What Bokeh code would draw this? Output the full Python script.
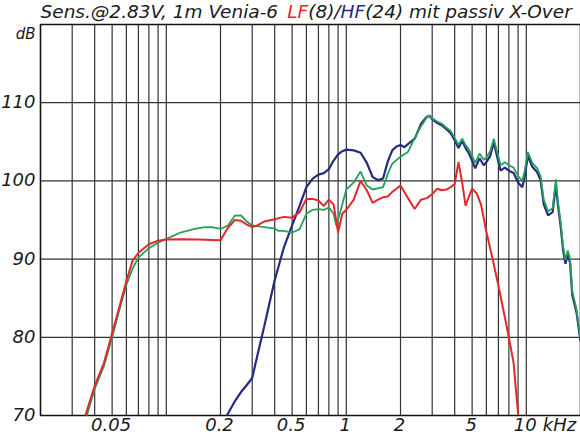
from bokeh.plotting import figure
from bokeh.models import Label
from bokeh.embed import file_html
from bokeh.resources import INLINE

# ---------------- data (frequency in kHz, level in dB) ----------------
freq_lf = [0.0355, 0.04, 0.045, 0.05, 0.055, 0.06, 0.065, 0.07, 0.08, 0.09,
           0.1, 0.12, 0.15, 0.18, 0.2, 0.22, 0.24, 0.26, 0.28, 0.3,
           0.32, 0.35, 0.4, 0.45, 0.5, 0.55, 0.6, 0.65, 0.7, 0.75,
           0.8, 0.85, 0.9, 0.95, 1.0, 1.1, 1.2, 1.3, 1.4, 1.5,
           1.6, 1.7, 1.8, 1.9, 2.0, 2.2, 2.4, 2.6, 2.8, 3.0,
           3.2, 3.4, 3.6, 3.8, 4.0, 4.2, 4.4, 4.6, 4.8, 5.0,
           5.3, 5.6, 6.0, 6.5, 7.0, 7.5, 8.0, 8.5, 9.0]
db_lf = [70.0, 73.8, 76.7, 80.5, 84.0, 87.2, 89.8, 90.8, 91.9, 92.35,
         92.5, 92.55, 92.5, 92.45, 92.4, 94.0, 95.0, 94.9, 94.4, 94.1,
         94.3, 94.8, 95.1, 95.4, 95.3, 96.0, 97.7, 97.7, 97.5, 96.8,
         97.6, 97.0, 93.4, 95.8, 96.3, 97.6, 100.0, 98.8, 97.2, 97.6,
         97.9, 98.0, 98.6, 99.0, 99.4, 97.8, 96.4, 97.6, 97.8, 98.3,
         99.0, 98.8, 98.9, 99.2, 99.6, 102.4, 99.8, 96.8, 98.0, 99.0,
         98.4, 97.0, 93.5, 90.0, 86.6, 83.2, 80.0, 76.7, 70.2]

freq_hf = [0.217, 0.24, 0.26, 0.28, 0.3, 0.32, 0.35, 0.4, 0.45, 0.5,
           0.55, 0.6, 0.65, 0.7, 0.75, 0.8, 0.85, 0.9, 0.95, 1.0,
           1.1, 1.2, 1.3, 1.4, 1.5, 1.6, 1.7, 1.8, 1.9, 2.0,
           2.1, 2.2, 2.4, 2.6, 2.8, 2.9, 3.0, 3.2, 3.4, 3.6,
           3.8, 4.0, 4.2, 4.4, 4.6, 4.8, 5.0, 5.2, 5.5, 5.8,
           6.0, 6.3, 6.6, 6.9, 7.2, 7.6, 8.0, 8.5, 9.0, 9.5,
           9.8, 10.2, 10.8, 11.5, 12.0, 12.5, 13.2, 14.0, 14.6, 15.0,
           15.5, 16.0, 16.5, 17.0, 17.5, 18.0, 19.0, 20.0]
db_hf = [70.0, 71.8, 73.0, 73.9, 74.8, 77.6, 81.4, 87.3, 91.5, 94.3,
         96.8, 99.2, 100.3, 100.8, 101.0, 101.5, 102.6, 103.4, 103.8, 104.0,
         103.9, 103.6, 102.3, 100.5, 100.1, 100.3, 102.5, 103.9, 104.4, 104.6,
         104.3, 104.7, 105.4, 107.3, 108.2, 108.3, 107.9, 107.4, 107.1, 106.6,
         106.1, 105.2, 104.2, 105.1, 104.2, 103.5, 102.6, 101.6, 102.9, 102.0,
         102.4, 103.2, 104.9, 103.0, 101.3, 101.7, 101.3, 101.0, 99.8, 99.2,
         100.6, 103.2, 101.8, 101.1, 100.1, 97.0, 95.6, 96.0, 99.5, 96.8,
         94.3, 91.2, 89.4, 90.6, 89.5, 85.4, 83.2, 79.5]

freq_sum = [0.0362, 0.04, 0.045, 0.05, 0.055, 0.06, 0.065, 0.07, 0.08, 0.09,
            0.1, 0.11, 0.12, 0.14, 0.16, 0.18, 0.2, 0.22, 0.24, 0.26,
            0.28, 0.3, 0.35, 0.4, 0.42, 0.45, 0.5, 0.55, 0.6, 0.65,
            0.7, 0.75, 0.8, 0.85, 0.88, 0.92, 1.0, 1.1, 1.2, 1.3,
            1.4, 1.6, 1.7, 1.8, 2.0, 2.2, 2.4, 2.6, 2.8,
            2.9, 3.0, 3.2, 3.4, 3.6, 3.8, 4.0, 4.2, 4.4, 4.6,
            4.8, 5.0, 5.2, 5.5, 5.8, 6.0, 6.3, 6.6, 6.9, 7.2,
            7.6, 8.0, 8.5, 9.0, 9.5, 9.8, 10.2, 10.8, 11.5, 12.0,
            12.5, 13.2, 14.0, 14.6, 15.0, 15.5, 16.0, 16.5, 17.0, 17.5,
            18.0, 19.0, 20.0]
db_sum = [70.0, 73.4, 76.3, 80.0, 83.6, 86.7, 88.8, 90.2, 91.4, 92.1,
          92.6, 93.0, 93.4, 93.8, 94.05, 94.1, 93.85, 94.3, 95.55, 95.6,
          94.8, 94.3, 94.1, 93.9, 93.6, 93.6, 93.4, 93.8, 95.8, 96.3,
          96.4, 96.3, 96.6, 95.8, 94.3, 95.8, 98.9, 99.8, 101.2, 99.4,
          98.9, 99.2, 100.9, 102.2, 103.1, 103.7, 105.5, 107.0, 108.1,
          108.4, 108.0, 107.6, 107.3, 106.8, 106.4, 105.5, 104.6, 105.4, 104.6,
          104.0, 103.2, 102.3, 103.5, 102.7, 103.0, 103.8, 105.4, 103.6, 102.0,
          102.4, 102.0, 101.7, 100.6, 100.0, 101.3, 103.7, 102.3, 101.6, 100.6,
          97.6, 96.1, 96.5, 100.2, 97.3, 94.8, 91.7, 89.9, 91.1, 90.0,
          85.9, 83.6, 79.9]

x_tick_values = [0.05, 0.2, 0.5, 1, 2, 5, 10]
x_tick_labels = ["0.05", "0.2", "0.5", "1", "2", "5", "10"]
y_tick_values = [70, 80, 90, 100, 110]
y_tick_labels = ["70", "80", "90", "100", "110"]
x_grid_ticks = [m * d for d in (0.01, 0.1, 1.0, 10.0) for m in range(1, 10)
                if 0.02 < m * d < 20]
y_grid_ticks = [80, 90, 100, 110]
x_lo, x_hi = 0.02, 20.0      # plotted band (kHz)
y_lo, y_hi = 70.0, 120.0     # plotted band (dB)

title_parts = ["Sens.@2.83V, 1m Venia-6", "LF", "(8)/", "HF", "(24) mit passiv X-Over"]
title_colors = ["#1a1a1a", "#e0282a", "#1a1a1a", "#2b2a86", "#1a1a1a"]
# advance widths (em) of the parts in DejaVu Sans (first incl. trailing space)
title_widths_em = [13.336, 1.132, 1.753, 1.327, 11.262]

RED = "#e3282a"
BLUE = "#262a80"
GREEN = "#25a058"
TXT = "#1a1a1a"
GRID = "#333333"
FONT = "DejaVu Sans"

# The plot frame fills the whole canvas so that every label stays visible;
# the ranges put 20 Hz..20 kHz and 70..120 dB where the reference box lies.
W, H = 580, 435
BOX_L, BOX_T, BOX_B = 40, 24, 20
x_start = x_lo / 10 ** (BOX_L / ((W - BOX_L) / 3.0))
dbpx = (H - BOX_T - BOX_B) / (y_hi - y_lo)
y_start = y_lo - BOX_B / dbpx
y_end = y_hi + BOX_T / dbpx

p = figure(width=W, height=H, x_axis_type="log",
           x_range=(x_start, x_hi), y_range=(y_start, y_end),
           output_backend="svg", toolbar_location=None, min_border=0)
p.title.visible = False
p.xaxis.visible = False
p.yaxis.visible = False
p.grid.visible = False
p.outline_line_color = None
p.background_fill_color = "white"
p.border_fill_color = "white"

# grid
p.segment(x0=x_grid_ticks, y0=[y_lo] * len(x_grid_ticks),
          x1=x_grid_ticks, y1=[y_hi] * len(x_grid_ticks),
          line_color=GRID, line_width=1.2)
p.segment(x0=[x_lo] * len(y_grid_ticks), y0=y_grid_ticks,
          x1=[x_hi] * len(y_grid_ticks), y1=y_grid_ticks,
          line_color=GRID, line_width=1.2)
# plot box
p.quad(left=[x_lo], right=[x_hi], bottom=[y_lo], top=[y_hi],
       fill_color=None, line_color="#111111", line_width=1.6)

p.line(freq_hf, db_hf, line_color=BLUE, line_width=2.2)
p.line(freq_sum, db_sum, line_color=GREEN, line_width=1.8)
p.line(freq_lf, db_lf, line_color=RED, line_width=2.0)

common = dict(text_font=FONT, text_font_style="italic", text_color=TXT)
SHIFT = 8.0   # measured downward offset of the rendered labels

for v, t in zip(y_tick_values, y_tick_labels):
    p.add_layout(Label(x=x_lo, y=v, x_offset=-5, y_offset=-7 + SHIFT, text=t,
                       text_align="right", text_baseline="alphabetic",
                       text_font_size="18px", **common))

for v, t in zip(x_tick_values, x_tick_labels):
    p.add_layout(Label(x=v, y=y_lo, x_offset=-1, y_offset=-16.5 + SHIFT, text=t,
                       text_align="center", text_baseline="alphabetic",
                       text_font_size="18px", **common))

p.add_layout(Label(x=10, y=y_lo, x_offset=16.5, y_offset=-16.5 + SHIFT, text="kHz",
                   text_align="left", text_baseline="alphabetic",
                   text_font_size="18px", **common))
p.add_layout(Label(x=x_lo, y=y_hi, x_offset=-5, y_offset=-16 + 7.0, text="dB",
                   text_align="right", text_baseline="alphabetic",
                   text_font_size="15px", **common))

fs = 18.5
off = 0.0
for part, col, w in zip(title_parts, title_colors, title_widths_em):
    p.add_layout(Label(x=x_lo, y=y_hi, x_offset=off, y_offset=4.8 + SHIFT, text=part,
                       text_align="left", text_baseline="alphabetic",
                       text_font_size=f"{fs}px", text_font=FONT,
                       text_font_style="italic", text_color=col))
    off += w * fs

open("out.html", "w").write(file_html(p, INLINE))
